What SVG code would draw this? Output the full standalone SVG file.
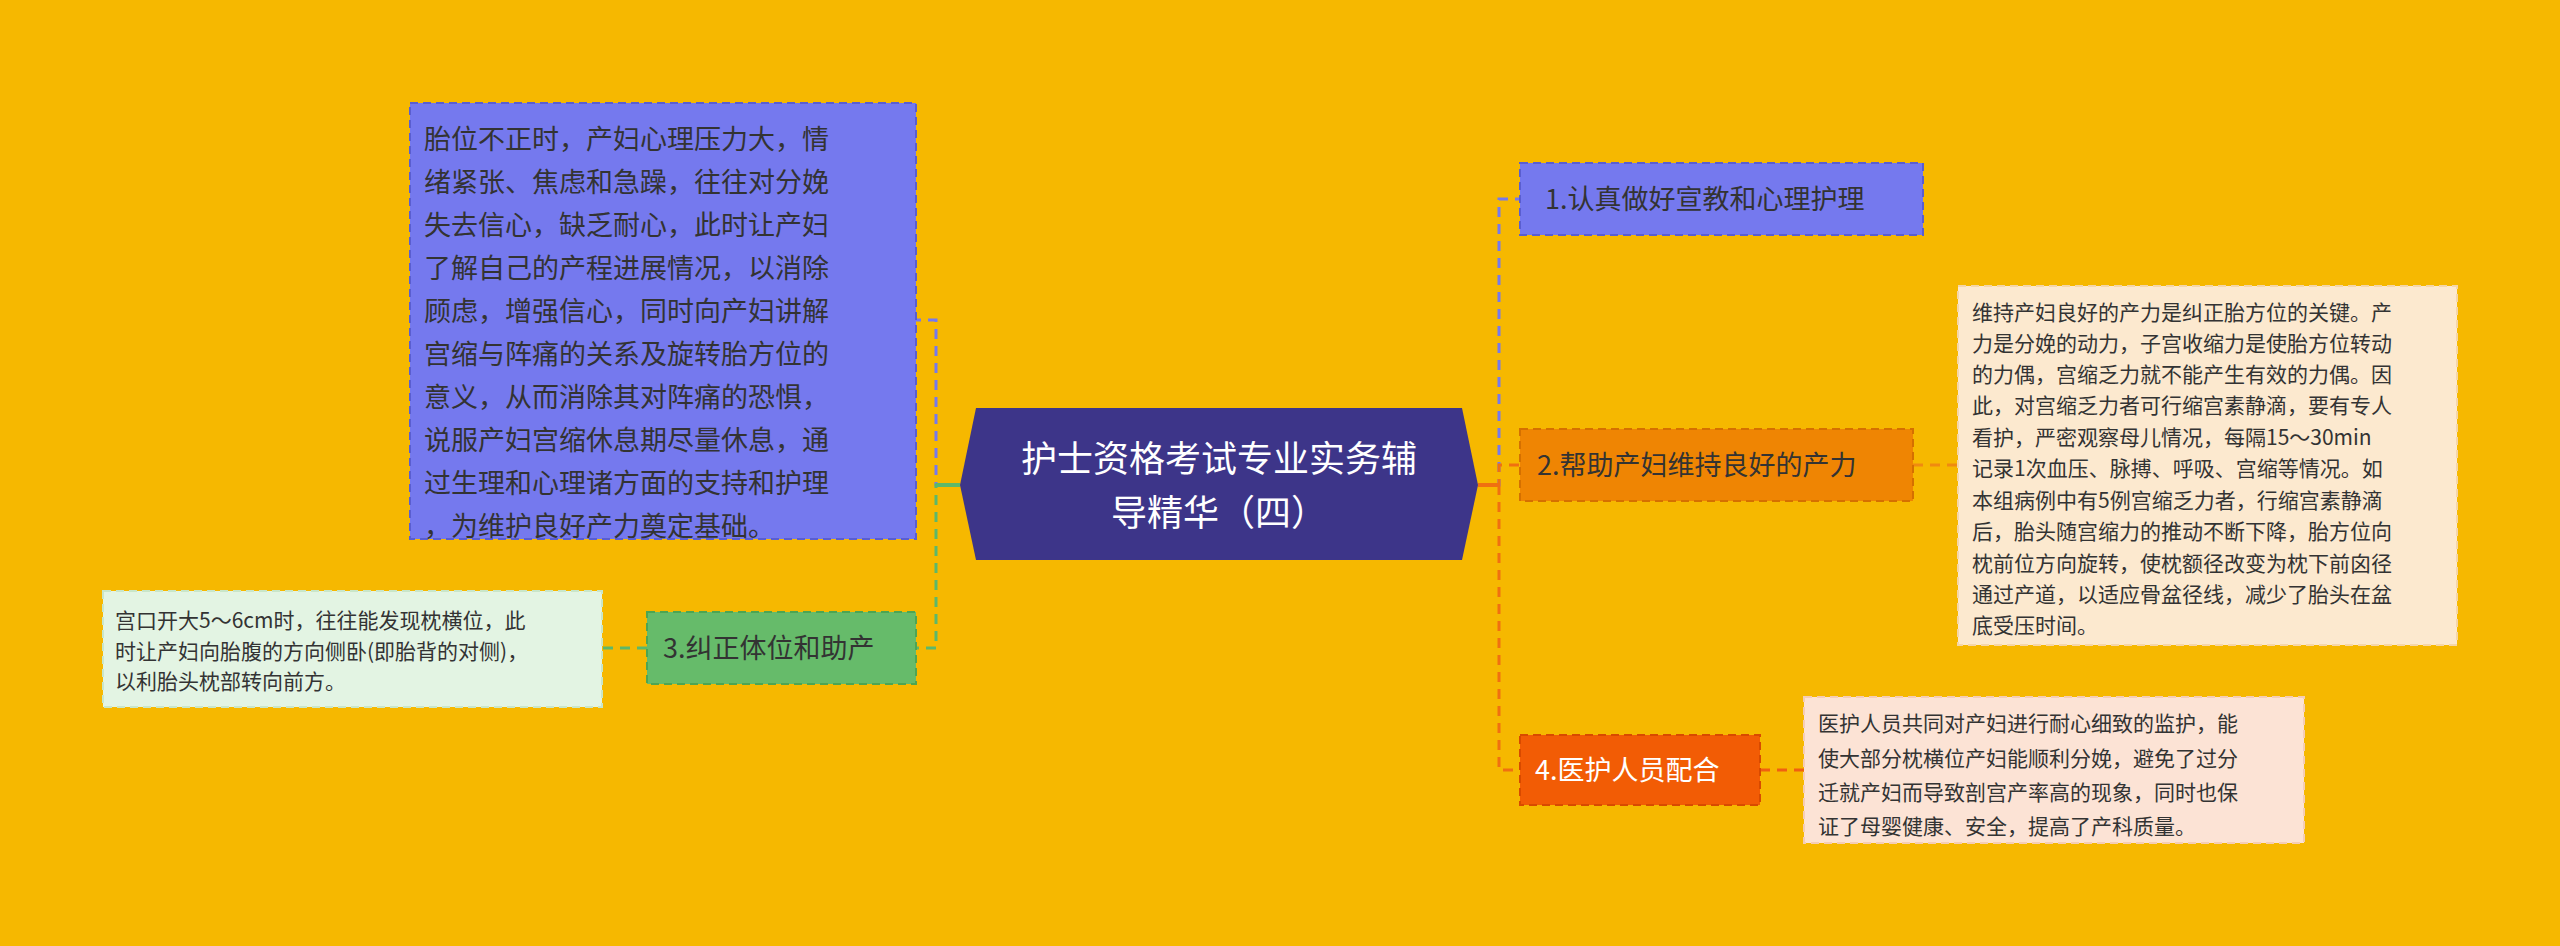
<svg xmlns="http://www.w3.org/2000/svg" width="2560" height="946" viewBox="0 0 2560 946">
<style>
text{font-family:"Noto Sans CJK SC","Noto Sans",sans-serif;}
.c{fill:none;stroke-width:3;stroke-dasharray:10 7;}
.b{stroke-width:2;stroke-dasharray:8 5;}
.t1{font-size:27px;fill:#333;}
.t2{font-size:21px;fill:#333;}
</style>
<rect width="2560" height="946" fill="#F6B800"/>
<g id="connectors">
<path class="c" stroke="#7579EE" d="M1478 485 H1499 V199 H1520"/>
<path class="c" stroke="#F07010" d="M1478 485 H1499 V465 H1520 M1499 485 V770 H1520"/>
<path class="c" stroke="#7579EE" d="M960 485 H936 V320 H916"/>
<path class="c" stroke="#5CB86A" d="M960 485 H936 V648 H916"/>
<path d="M936 485 H960" stroke="#5CB86A" stroke-width="4"/>
<path d="M1478 485 H1499" stroke="#F07010" stroke-width="4"/>
<path class="c" stroke="#5CB86A" d="M647 648 H602"/>
<path class="c" stroke="#F08A10" d="M1913 465 H1958"/>
<path class="c" stroke="#F06010" d="M1760 770 H1804"/>
</g>
<g id="center">
<path d="M976 408 H1462 L1478 485 L1462 560 H976 L960 485 Z" fill="#3D3589"/>
<text x="1219" y="472" font-size="36" fill="#fff" text-anchor="middle">护士资格考试专业实务辅</text>
<text x="1219" y="526" font-size="36" fill="#fff" text-anchor="middle">导精华（四）</text>
</g>
<g id="n1">
<rect class="b" x="1520" y="163" width="403" height="72" fill="#7579EE" stroke="#5a5ed0"/>
<text class="t1" x="1545" y="209">1.认真做好宣教和心理护理</text>
</g>
<g id="n2">
<rect class="b" x="1520" y="429" width="393" height="72" fill="#EF8503" stroke="#d57000"/>
<text class="t1" x="1537" y="475">2.帮助产妇维持良好的产力</text>
</g>
<g id="n2leaf">
<rect class="b" x="1958" y="286" width="499" height="359" fill="#FCE9CF" stroke="#f5d6a8"/>
<text class="t2" x="1972">
<tspan x="1972" y="320">维持产妇良好的产力是纠正胎方位的关键。产</tspan>
<tspan x="1972" y="351">力是分娩的动力，子宫收缩力是使胎方位转动</tspan>
<tspan x="1972" y="382">的力偶，宫缩乏力就不能产生有效的力偶。因</tspan>
<tspan x="1972" y="413">此，对宫缩乏力者可行缩宫素静滴，要有专人</tspan>
<tspan x="1972" y="445">看护，严密观察母儿情况，每隔15～30min</tspan>
<tspan x="1972" y="476">记录1次血压、脉搏、呼吸、宫缩等情况。如</tspan>
<tspan x="1972" y="508">本组病例中有5例宫缩乏力者，行缩宫素静滴</tspan>
<tspan x="1972" y="539">后，胎头随宫缩力的推动不断下降，胎方位向</tspan>
<tspan x="1972" y="571">枕前位方向旋转，使枕额径改变为枕下前囟径</tspan>
<tspan x="1972" y="602">通过产道，以适应骨盆径线，减少了胎头在盆</tspan>
<tspan x="1972" y="633">底受压时间。</tspan>
</text>
</g>
<g id="n4">
<rect class="b" x="1520" y="735" width="240" height="70" fill="#F25C05" stroke="#d84a00"/>
<text x="1535" y="780" font-size="27" fill="#fff">4.医护人员配合</text>
</g>
<g id="n4leaf">
<rect class="b" x="1804" y="697" width="500" height="146" fill="#FCE3D5" stroke="#f5cdb5"/>
<text class="t2">
<tspan x="1818" y="731">医护人员共同对产妇进行耐心细致的监护，能</tspan>
<tspan x="1818" y="766">使大部分枕横位产妇能顺利分娩，避免了过分</tspan>
<tspan x="1818" y="800">迁就产妇而导致剖宫产率高的现象，同时也保</tspan>
<tspan x="1818" y="834">证了母婴健康、安全，提高了产科质量。</tspan>
</text>
</g>
<g id="n0">
<rect class="b" x="410" y="103" width="506" height="436" fill="#7579EE" stroke="#5a5ed0"/>
<text class="t1">
<tspan x="424" y="149">胎位不正时，产妇心理压力大，情</tspan>
<tspan x="424" y="192">绪紧张、焦虑和急躁，往往对分娩</tspan>
<tspan x="424" y="235">失去信心，缺乏耐心，此时让产妇</tspan>
<tspan x="424" y="278">了解自己的产程进展情况，以消除</tspan>
<tspan x="424" y="321">顾虑，增强信心，同时向产妇讲解</tspan>
<tspan x="424" y="364">宫缩与阵痛的关系及旋转胎方位的</tspan>
<tspan x="424" y="407">意义，从而消除其对阵痛的恐惧，</tspan>
<tspan x="424" y="450">说服产妇宫缩休息期尽量休息，通</tspan>
<tspan x="424" y="493">过生理和心理诸方面的支持和护理</tspan>
<tspan x="424" y="517" dy="19">，为维护良好产力奠定基础。</tspan>
</text>
</g>
<g id="n3">
<rect class="b" x="647" y="612" width="269" height="72" fill="#66BB6A" stroke="#4ea552"/>
<text class="t1" x="663" y="658">3.纠正体位和助产</text>
</g>
<g id="n3leaf">
<rect class="b" x="103" y="591" width="499" height="116" fill="#E3F4E3" stroke="#c9e6c9"/>
<text class="t2">
<tspan x="115" y="628">宫口开大5～6cm时，往往能发现枕横位，此</tspan>
<tspan x="115" y="659">时让产妇向胎腹的方向侧卧(即胎背的对侧)，</tspan>
<tspan x="115" y="689">以利胎头枕部转向前方。</tspan>
</text>
</g>
</svg>
